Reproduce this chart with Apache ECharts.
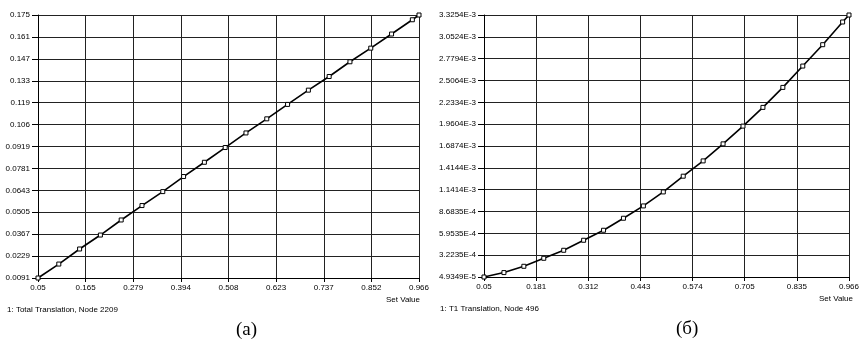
<!DOCTYPE html>
<html>
<head>
<meta charset="utf-8">
<script src="https://cdn.jsdelivr.net/npm/echarts@6/dist/echarts.min.js"></script>
<style>
html,body{margin:0;padding:0;background:#fff;}
#chart{width:862px;height:340px;}
</style>
</head>
<body>
<div id="chart"></div>
<script>
// ---- Panel (a): Total Translation, Node 2209 ----
const xA = [0.05, 0.10, 0.15, 0.20, 0.25, 0.30, 0.35, 0.40, 0.45, 0.50, 0.55, 0.60, 0.65, 0.70, 0.75, 0.80, 0.85, 0.90, 0.95, 0.966];
const yA = [0.0091, 0.0179, 0.0274, 0.0362, 0.0457, 0.0548, 0.0636, 0.0731, 0.0821, 0.0914, 0.1006, 0.1095, 0.1186, 0.1276, 0.1362, 0.1455, 0.1541, 0.1630, 0.1720, 0.175];
const xTicksA = ['0.05', '0.165', '0.279', '0.394', '0.508', '0.623', '0.737', '0.852', '0.966'];
const yTicksA = ['0.0091', '0.0229', '0.0367', '0.0505', '0.0643', '0.0781', '0.0919', '0.106', '0.119', '0.133', '0.147', '0.161', '0.175'];
const xRangeA = [0.05, 0.966];
const yRangeA = [0.0091, 0.175];

// ---- Panel (б): T1 Translation, Node 496 ----
const xB = [0.05, 0.10, 0.15, 0.20, 0.25, 0.30, 0.35, 0.40, 0.45, 0.50, 0.55, 0.60, 0.65, 0.70, 0.75, 0.80, 0.85, 0.90, 0.95, 0.966];
const yB = [4.9349e-5, 1.045e-4, 1.833e-4, 2.834e-4, 3.836e-4, 5.088e-4, 6.339e-4, 7.84e-4, 9.38e-4, 1.113e-3, 1.310e-3, 1.501e-3, 1.714e-3, 1.936e-3, 2.170e-3, 2.420e-3, 2.687e-3, 2.954e-3, 3.238e-3, 3.3254e-3];
const xTicksB = ['0.05', '0.181', '0.312', '0.443', '0.574', '0.705', '0.835', '0.966'];
const yTicksB = ['4.9349E-5', '3.2235E-4', '5.9535E-4', '8.6835E-4', '1.1414E-3', '1.4144E-3', '1.6874E-3', '1.9604E-3', '2.2334E-3', '2.5064E-3', '2.7794E-3', '3.0524E-3', '3.3254E-3'];
const xRangeB = [0.05, 0.966];
const yRangeB = [4.9349e-5, 3.3254e-3];

const captionA = '1: Total Translation, Node 2209';
const captionB = '1: T1 Translation, Node 496';
const axisName = 'Set Value';
const panelA = '(a)';
const panelB = '(б)';

const FONT = '"Liberation Sans", Arial, sans-serif';
const GRIDC = '#222';

function tickAxis(gridIndex, labels, isX) {
  return {
    type: 'value', gridIndex: gridIndex,
    min: 0, max: labels.length - 1, interval: 1,
    axisLine: {show: true, onZero: false, lineStyle: {color: '#000', width: 1}},
    axisTick: {show: true, length: isX ? 4 : 6, lineStyle: {color: '#000'}},
    splitLine: {show: true, lineStyle: {color: GRIDC, width: 1}},
    axisLabel: {
      color: '#000', fontSize: 8, fontFamily: FONT, margin: isX ? 6 : 8,
      showMinLabel: true, showMaxLabel: true,
      formatter: function (v) { return labels[Math.round(v)]; }
    }
  };
}
function dataAxis(gridIndex, range) {
  return {type: 'value', gridIndex: gridIndex, min: range[0], max: range[1], show: false,
    splitLine: {show: false}};
}
function pairs(xs, ys) { return xs.map((x, i) => [x, ys[i]]); }

const seriesStyle = {
  type: 'line', symbol: 'rect', symbolSize: 4, showSymbol: true,
  lineStyle: {color: '#000', width: 1.6},
  itemStyle: {color: '#fff', borderColor: '#000', borderWidth: 1},
  animation: false, clip: false
};

const chart = echarts.init(document.getElementById('chart'), null, {renderer: 'canvas'});
chart.setOption({
  animation: false,
  backgroundColor: '#fff',
  grid: [
    {left: 38, top: 15, width: 381, height: 263},
    {left: 484, top: 15, width: 369, height: 262}
  ],
  xAxis: [
    tickAxis(0, xTicksA, true), dataAxis(0, xRangeA),
    tickAxis(1, xTicksB, true), dataAxis(1, xRangeB)
  ],
  yAxis: [
    tickAxis(0, yTicksA, false), dataAxis(0, yRangeA),
    tickAxis(1, yTicksB, false), dataAxis(1, yRangeB)
  ],
  series: [
    Object.assign({}, seriesStyle, {xAxisIndex: 1, yAxisIndex: 1, data: pairs(xA, yA)}),
    Object.assign({}, seriesStyle, {xAxisIndex: 3, yAxisIndex: 3, data: pairs(xB, yB)})
  ],
  graphic: [
    {type: 'text', right: 862 - 420, top: 296, style: {text: axisName, fill: '#000', font: '8px ' + FONT}},
    {type: 'text', right: 862 - 853, top: 295, style: {text: axisName, fill: '#000', font: '8px ' + FONT}},
    {type: 'text', left: 7, top: 306, style: {text: captionA, fill: '#000', font: '8px ' + FONT}},
    {type: 'text', left: 440, top: 305, style: {text: captionB, fill: '#000', font: '8px ' + FONT}},
    {type: 'text', left: 236, top: 321, style: {text: panelA, fill: '#000', font: '19px "Liberation Serif", "Times New Roman", serif'}},
    {type: 'text', left: 676, top: 320, style: {text: panelB, fill: '#000', font: '19px "Liberation Serif", "Times New Roman", serif'}}
  ]
});
</script>
</body>
</html>
